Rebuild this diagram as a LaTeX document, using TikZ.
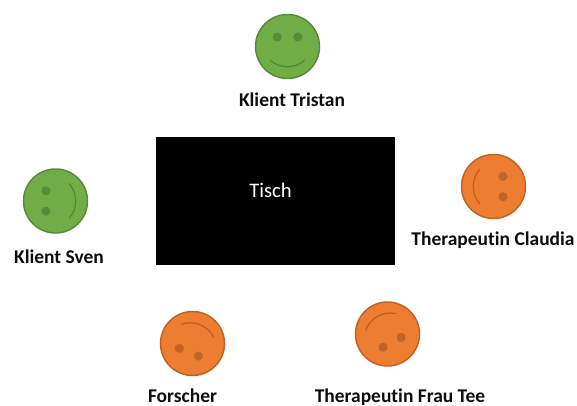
\documentclass[tikz,border=0pt]{standalone}
\usepackage{fontspec}
\setmainfont[Ligatures=NoCommon]{Carlito}
\tikzset{
  face/.pic={
    \path[fill=facefill,draw=faceline!75!facefill,line width=1.1pt] (0,0) circle[radius=32];
    \path[fill=faceline!70!facefill] (-10.2,9.5) circle[radius=4.6] (10.2,9.5) circle[radius=4.6];
    \path[draw=faceline!80!facefill,line width=0.9pt] (-17.5,-13.5) .. controls (-8,-22.5) and (8,-22.5) .. (17.5,-13.5);
  },
  who/.style={font=\bfseries\fontsize{14.6}{16}\selectfont,text=black!95,inner sep=0pt,anchor=center}
}
\colorlet{facefill}{black}\colorlet{faceline}{black}
\definecolor{gfill}{HTML}{70AD47}\definecolor{gline}{HTML}{507E32}
\definecolor{ofill}{HTML}{ED7D31}\definecolor{oline}{HTML}{AE5A21}
\newcommand{\greenset}{\colorlet{facefill}{gfill}\colorlet{faceline}{gline}}
\newcommand{\orangeset}{\colorlet{facefill}{ofill}\colorlet{faceline}{oline}}
\begin{document}
\begin{tikzpicture}[x=0.75pt,y=0.75pt]
\useasboundingbox (0,0) rectangle (577,406);
\node[fill=black,minimum width=179.25pt,minimum height=96pt,inner sep=0pt] (tisch) at (275.5,205) {};
\node[text=white,font=\fontsize{15.5}{17}\selectfont,inner sep=0pt] (tischlabel) at (270.5,216) {Tisch};
\begin{scope}
\greenset
\pic (tristan) at (287.5,359.5) {face};
\pic[rotate=90] (sven) at (55.5,205) {face};
\end{scope}
\begin{scope}
\orangeset
\pic[rotate=-90] (claudia) at (493.5,219.5) {face};
\pic[rotate=158] (forscher) at (192.5,62.5) {face};
\pic[rotate=209] (frautee) at (387.5,72) {face};
\end{scope}
\node[who] (ltristan) at (292,306) {Klient Tristan};
\node[who] (lsven) at (59,149) {Klient Sven};
\node[who] (lclaudia) at (493,166) {Therapeutin Claudia};
\node[who] (lforscher) at (182.5,10) {Forscher};
\node[who] (lfrautee) at (400,9) {Therapeutin Frau Tee};
\end{tikzpicture}
\end{document}
